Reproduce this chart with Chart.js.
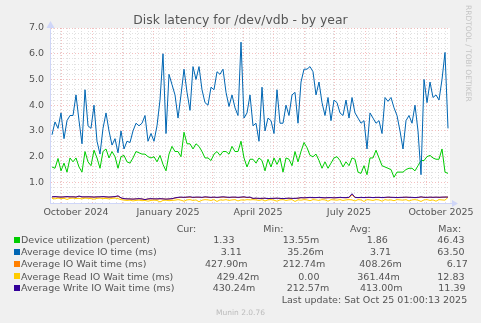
<!DOCTYPE html>
<html>
<head>
<meta charset="utf-8">
<title>Disk latency for /dev/vdb - by year</title>
<script src="https://cdn.jsdelivr.net/npm/chart.js@4.4.1/dist/chart.umd.min.js"></script>
<style>
  html, body { margin: 0; padding: 0; background: #f0f0f0; }
  #wrap { position: relative; width: 481px; height: 323px; overflow: hidden; font-family: "DejaVu Sans", sans-serif; color: #555; }
  #chart { position: absolute; left: 0; top: 0; }
  .t { position: absolute; white-space: pre; font-size: 9.5px; line-height: 11px; }
  .sw { position: absolute; width: 6px; height: 6px; }
  #title { position: absolute; left: 0; top: 12px; width: 481px; text-align: center; font-size: 12.4px; line-height: 15px; }
  #rrd { position: absolute; left: 464px; top: 5px; writing-mode: vertical-rl; font-size: 7.5px; color: #c4c4c4; white-space: pre; }
  #munin { position: absolute; left: 0; width: 481px; top: 308px; text-align: center; font-size: 7.5px; line-height: 9px; color: #bbb; }
</style>
</head>
<body>
<div id="wrap">
  <canvas id="chart" width="481" height="323"></canvas>
  <div id="title">Disk latency for /dev/vdb - by year</div>
  <div id="rrd">RRDTOOL / TOBI OETIKER</div>
  <div id="legend"></div>
  <div id="munin">Munin 2.0.76</div>
</div>
<script>
// window: 400 days ending Sat Oct 25 2025 01:00, x = days since start (Sep 20 2024)
const days = [];
for (let d = 2; d <= 398; d += 3) days.push(d);

// Device utilization (percent)
const utilization = [
  1.6, 1.55, 1.93, 1.45, 1.75, 1.4, 1.95, 1.8, 1.95, 1.6, 1.4, 2.2, 1.8, 1.65, 2.25, 1.95, 1.55, 2.2, 2.3, 1.95, 2.2, 2.0, 1.55, 2.0, 2.05, 1.8, 1.75, 1.95, 2.2, 2.15, 2.1, 2.1, 2.0, 1.95,
  2.0, 1.8, 2.05, 1.7, 1.45, 2.1, 2.4, 2.2, 2.2, 2.0, 2.95, 2.5, 2.5, 2.3, 2.5, 2.4, 2.2, 1.95, 1.95, 1.85, 2.1, 2.2, 2.05, 2.2, 2.2, 2.1, 2.4, 2.2, 2.2, 2.6, 1.95, 1.6, 1.9,
  1.9, 1.75, 1.95, 1.85, 1.45, 1.9, 1.6, 1.95, 1.7, 1.95, 1.4, 1.95, 1.9, 1.65, 2.2, 1.8, 2.2, 2.55, 2.35, 2.05, 2.0, 2.1, 1.85, 1.55, 1.8, 1.55, 1.75, 1.95, 2.0, 1.85, 1.6, 1.8, 1.65,
  1.95, 1.9, 1.4, 1.35, 1.65, 1.3, 1.95, 1.95, 2.25, 1.95, 1.65, 1.6, 1.55, 1.5, 1.2, 1.4, 1.4, 1.4, 1.5, 1.55, 1.55, 1.45, 1.65, 1.85, 1.85, 2.0, 2.05, 1.95, 1.9, 1.9, 2.3, 1.4, 1.35
];
// Average device IO time (ms)
const deviceIo = [
  2.85, 3.35, 3.1, 3.7, 2.7, 3.4, 3.6, 3.6, 4.4, 3.4, 2.5, 4.6, 3.2, 3.1, 4.0, 2.6, 2.1, 3.1, 3.7, 3.0, 2.45, 2.7, 2.15, 3.0, 2.3, 2.6, 2.55, 3.0, 3.3, 3.2, 3.3, 3.6, 2.6, 2.9,
  2.6, 3.2, 4.2, 6.0, 2.9, 5.2, 4.8, 4.4, 3.5, 4.4, 5.4, 4.5, 3.8, 5.5, 5.0, 5.5, 4.6, 4.1, 4.0, 4.7, 4.6, 5.3, 5.2, 5.4, 4.5, 3.95, 4.4, 3.9, 3.6, 6.45, 3.5, 3.7, 4.4,
  3.2, 3.3, 2.6, 4.7, 3.0, 3.5, 3.4, 2.9, 4.6, 3.3, 3.3, 4.0, 3.6, 4.4, 4.5, 3.3, 4.9, 5.4, 5.4, 5.5, 5.3, 4.4, 4.9, 4.1, 3.6, 4.3, 3.4, 4.2, 4.1, 3.7, 3.6, 4.2, 3.5,
  4.3, 3.7, 3.5, 3.3, 3.4, 2.3, 3.7, 3.5, 3.3, 3.4, 2.9, 4.3, 4.15, 4.3, 3.9, 3.6, 3.0, 2.3, 3.4, 3.6, 3.3, 4.0, 3.0, 1.3, 5.0, 4.1, 4.9, 4.3, 4.4, 4.2, 5.0, 6.05, 3.1
];
// Average IO Wait time (ms)
const ioWait = [
  0.43, 0.44, 0.43, 0.43, 0.43, 0.44, 0.43, 0.44, 0.43, 0.46, 0.43, 0.43, 0.44, 0.43, 0.43, 0.43, 0.44, 0.44, 0.43, 0.43, 0.43, 0.44,
  0.46, 0.39, 0.36, 0.36, 0.35, 0.35, 0.36, 0.36, 0.35, 0.34, 0.35, 0.36, 0.36, 0.35, 0.36, 0.36, 0.35, 0.35, 0.36, 0.39,
  0.41, 0.42, 0.41, 0.42, 0.43, 0.41, 0.42, 0.42, 0.41, 0.43, 0.42, 0.41, 0.42, 0.41, 0.42, 0.43, 0.42, 0.41, 0.42, 0.42, 0.41, 0.42, 0.43, 0.41, 0.42,
  0.37, 0.38, 0.37, 0.38, 0.38, 0.37, 0.37, 0.38, 0.38, 0.37, 0.37, 0.38, 0.38, 0.37, 0.38, 0.38, 0.40, 0.40, 0.40, 0.41, 0.40, 0.41, 0.41, 0.40, 0.40, 0.40, 0.41, 0.40, 0.40, 0.41, 0.41, 0.40, 0.41,
  0.52, 0.41, 0.41, 0.41, 0.41, 0.41, 0.42, 0.41, 0.41, 0.42, 0.41, 0.41, 0.42, 0.42, 0.41, 0.41, 0.41, 0.42, 0.42, 0.42, 0.41, 0.41, 0.41, 0.43, 0.42, 0.41, 0.42, 0.42, 0.42, 0.42, 0.42, 0.43, 0.43
];
// Average Read IO Wait time (ms)
const readWait = [
  0.38, 0.36, 0.39, 0.37, 0.38, 0.34, 0.38, 0.39, 0.37, 0.38, 0.36, 0.39, 0.38, 0.37, 0.35, 0.38, 0.39, 0.37, 0.38, 0.36, 0.38, 0.39,
  0.37, 0.33, 0.31, 0.30, 0.31, 0.28, 0.30, 0.31, 0.29, 0.30, 0.27, 0.30, 0.31, 0.30, 0.24, 0.30, 0.31, 0.29, 0.30, 0.31,
  0.33, 0.31, 0.27, 0.32, 0.33, 0.30, 0.32, 0.25, 0.31, 0.33, 0.32, 0.30, 0.33, 0.26, 0.32, 0.31, 0.33, 0.30, 0.32, 0.33, 0.28, 0.32, 0.31, 0.33, 0.32,
  0.33, 0.32, 0.30, 0.33, 0.28, 0.32, 0.33, 0.31, 0.27, 0.32, 0.33, 0.30, 0.32, 0.33, 0.26, 0.32, 0.31, 0.33, 0.32, 0.29, 0.33, 0.32, 0.30, 0.33, 0.32, 0.27, 0.33, 0.32, 0.31, 0.33, 0.30, 0.32, 0.33,
  0.32, 0.28, 0.33, 0.32, 0.26, 0.33, 0.32, 0.30, 0.33, 0.32, 0.27, 0.33, 0.31, 0.32, 0.29, 0.33, 0.32, 0.31, 0.33, 0.28, 0.32, 0.33, 0.31, 0.26, 0.32, 0.33, 0.30, 0.32, 0.27, 0.33, 0.32, 0.31, 0.42
];
// Average Write IO Wait time (ms)
const writeWait = [
  0.44, 0.45, 0.44, 0.43, 0.44, 0.45, 0.44, 0.44, 0.43, 0.47, 0.44, 0.44, 0.44, 0.44, 0.43, 0.44, 0.44, 0.45, 0.44, 0.43, 0.44, 0.45,
  0.48, 0.40, 0.37, 0.36, 0.36, 0.35, 0.36, 0.37, 0.36, 0.33, 0.36, 0.37, 0.36, 0.36, 0.37, 0.36, 0.35, 0.36, 0.37, 0.40,
  0.42, 0.43, 0.42, 0.43, 0.44, 0.42, 0.43, 0.43, 0.42, 0.44, 0.43, 0.42, 0.43, 0.42, 0.43, 0.44, 0.43, 0.42, 0.43, 0.43, 0.42, 0.43, 0.44, 0.42, 0.43,
  0.38, 0.39, 0.38, 0.38, 0.39, 0.37, 0.38, 0.38, 0.39, 0.38, 0.37, 0.38, 0.39, 0.38, 0.38, 0.39, 0.41, 0.40, 0.41, 0.42, 0.41, 0.41, 0.42, 0.41, 0.40, 0.41, 0.41, 0.40, 0.41, 0.42, 0.41, 0.41, 0.42,
  0.56, 0.42, 0.41, 0.42, 0.41, 0.42, 0.42, 0.41, 0.42, 0.42, 0.41, 0.42, 0.43, 0.42, 0.42, 0.41, 0.42, 0.42, 0.43, 0.42, 0.42, 0.41, 0.42, 0.44, 0.42, 0.42, 0.43, 0.42, 0.43, 0.42, 0.43, 0.43, 0.43
];

const seriesNames = [
  "Device utilization (percent)",
  "Average device IO time (ms)",
  "Average IO Wait time (ms)",
  "Average Read IO Wait time (ms)",
  "Average Write IO Wait time (ms)"
];
const seriesColors = ["#00cc00", "#0066b3", "#ff8000", "#ffcc00", "#330099"];
const curVals = ["1.33", "3.11", "427.90m", "429.42m", "430.24m"];
const minVals = ["13.55m", "35.26m", "212.74m", "0.00", "212.57m"];
const avgVals = ["1.86", "3.71", "408.26m", "361.44m", "413.00m"];
const maxVals = ["46.43", "63.50", "6.17", "12.83", "11.39"];
const lastUpdate = "Last update: Sat Oct 25 01:00:13 2025";

// x axis: month starts (red), weeks (grey), month labels centred mid-month
const monthStarts = [11, 42, 72, 103, 134, 162, 193, 223, 254, 284, 315, 346, 376];
const weekStarts = [];
for (let d = 3; d < 400; d += 7) weekStarts.push(d);
const monthLabels = ["October 2024", "January 2025", "April 2025", "July 2025", "October 2025"];
const monthLabelDays = [26, 118, 208, 299, 391];

const yMin = 0.2, yMax = 7.0;

const allSeries = [utilization, deviceIo, ioWait, readWait, writeWait];

const majorGrid = 'rgba(236, 150, 150, 0.6)';
const minorGrid = 'rgba(205, 205, 205, 0.6)';

// legend table (rrdtool GPRINT columns are ragged, so x positions are per cell)
const legendRowY = [239.7, 251.7, 263.7, 276.0, 287.7];
const cellX = [
  [213.3, 282.7, 366.7, 437.3],
  [220.7, 287.3, 370.0, 437.3],
  [205.0, 282.7, 359.3, 446.7],
  [216.7, 298.3, 357.3, 437.3],
  [212.7, 286.7, 360.0, 438.3]
];
const headX = [176.7, 263.3, 350.0, 438.3];

function addText(txt, x, cy, cls) {
  const el = document.createElement('div');
  el.className = cls || 't';
  el.textContent = txt;
  el.style.left = x + 'px';
  el.style.top = (cy - 5.4) + 'px';
  document.getElementById('legend').appendChild(el);
  return el;
}

["Cur:", "Min:", "Avg:", "Max:"].forEach((h, i) => addText(h, headX[i], 228.3));
seriesNames.forEach((name, r) => {
  const sw = document.createElement('div');
  sw.className = 'sw';
  sw.style.background = seriesColors[r];
  sw.style.left = '14px';
  sw.style.top = (legendRowY[r] - 3) + 'px';
  document.getElementById('legend').appendChild(sw);
  addText(name, 21, legendRowY[r]);
  [curVals, minVals, avgVals, maxVals].forEach((col, c) => addText(col[r], cellX[r][c], legendRowY[r]));
});
addText(lastUpdate, 281.7, 299.7);

const plotDecor = {
  id: 'plotDecor',
  beforeDraw(chart) {
    const {ctx, chartArea: a} = chart;
    ctx.save();
    ctx.fillStyle = '#ffffff';
    ctx.fillRect(a.left, a.top, a.right - a.left, a.bottom - a.top);
    ctx.restore();
  },
  afterDraw(chart) {
    const {ctx, chartArea: a} = chart;
    ctx.save();
    ctx.fillStyle = '#cfd6f8';
    ctx.strokeStyle = '#cfd6f8';
    ctx.beginPath();
    ctx.moveTo(a.right, a.bottom + 0.5);
    ctx.lineTo(a.right + 3, a.bottom + 0.5);
    ctx.stroke();
    ctx.beginPath();
    ctx.moveTo(a.right + 2, a.bottom - 3);
    ctx.lineTo(a.right + 8, a.bottom + 0.5);
    ctx.lineTo(a.right + 2, a.bottom + 4);
    ctx.closePath();
    ctx.fill();
    ctx.beginPath();
    ctx.moveTo(a.left - 3.5, a.top);
    ctx.lineTo(a.left + 0.5, a.top - 7);
    ctx.lineTo(a.left + 4.5, a.top);
    ctx.closePath();
    ctx.fill();
    ctx.restore();
  }
};

const ctx = document.getElementById('chart').getContext('2d');
new Chart(ctx, {
  type: 'line',
  data: {
    datasets: allSeries.map((vals, i) => ({
      label: seriesNames[i],
      data: days.map((d, j) => ({x: d, y: vals[j]})),
      borderColor: seriesColors[i],
      borderWidth: 1,
      pointRadius: 0,
      tension: 0,
      fill: false,
      order: 5 - i
    }))
  },
  options: {
    responsive: false,
    animation: false,
    layout: { autoPadding: false, padding: { left: 0, top: 28, right: 31, bottom: 106 } },
    plugins: { legend: { display: false }, tooltip: { enabled: false }, title: { display: false } },
    scales: {
      x: {
        type: 'linear',
        min: 0,
        max: 400,
        afterBuildTicks: (axis) => {
          const t = [];
          weekStarts.forEach(v => t.push({value: v, kind: 'week', text: ''}));
          monthLabelDays.forEach((v, i) => t.push({value: v, kind: 'label', text: monthLabels[i]}));
          monthStarts.forEach(v => t.push({value: v, kind: 'month', text: ''}));
          axis.ticks = t;
        },
        afterFit: (axis) => { axis.height = 14; },
        grid: {
          drawTicks: false,
          color: (c) => {
            if (!c.tick) return 'transparent';
            if (c.tick.kind === 'month') return majorGrid;
            if (c.tick.kind === 'week') return minorGrid;
            return 'transparent';
          }
        },
        border: { color: '#cfd6f8', dash: [1, 2] },
        ticks: {
          autoSkip: false,
          maxRotation: 0,
          padding: 4,
          color: '#555',
          font: { family: 'DejaVu Sans', size: 9.5 },
          callback: (v, i, ticks) => ticks[i].text
        }
      },
      y: {
        min: yMin,
        max: yMax,
        afterBuildTicks: (axis) => {
          const t = [];
          for (let k = 1; k <= 35; k++) t.push({value: Math.round(k * 2) / 10});
          axis.ticks = t;
        },
        afterFit: (axis) => { axis.width = 50; },
        grid: {
          drawTicks: false,
          color: (c) => {
            if (!c.tick) return 'transparent';
            const v = c.tick.value;
            return Math.abs(v - Math.round(v)) < 1e-6 ? majorGrid : minorGrid;
          }
        },
        border: { color: '#cfd6f8', dash: [1, 2] },
        ticks: {
          autoSkip: false,
          padding: 6,
          color: '#555',
          font: { family: 'DejaVu Sans', size: 9.5 },
          callback: (v) => Math.abs(v - Math.round(v)) < 1e-6 ? v.toFixed(1) : ''
        }
      }
    }
  },
  plugins: [plotDecor]
});
</script>
</body>
</html>
